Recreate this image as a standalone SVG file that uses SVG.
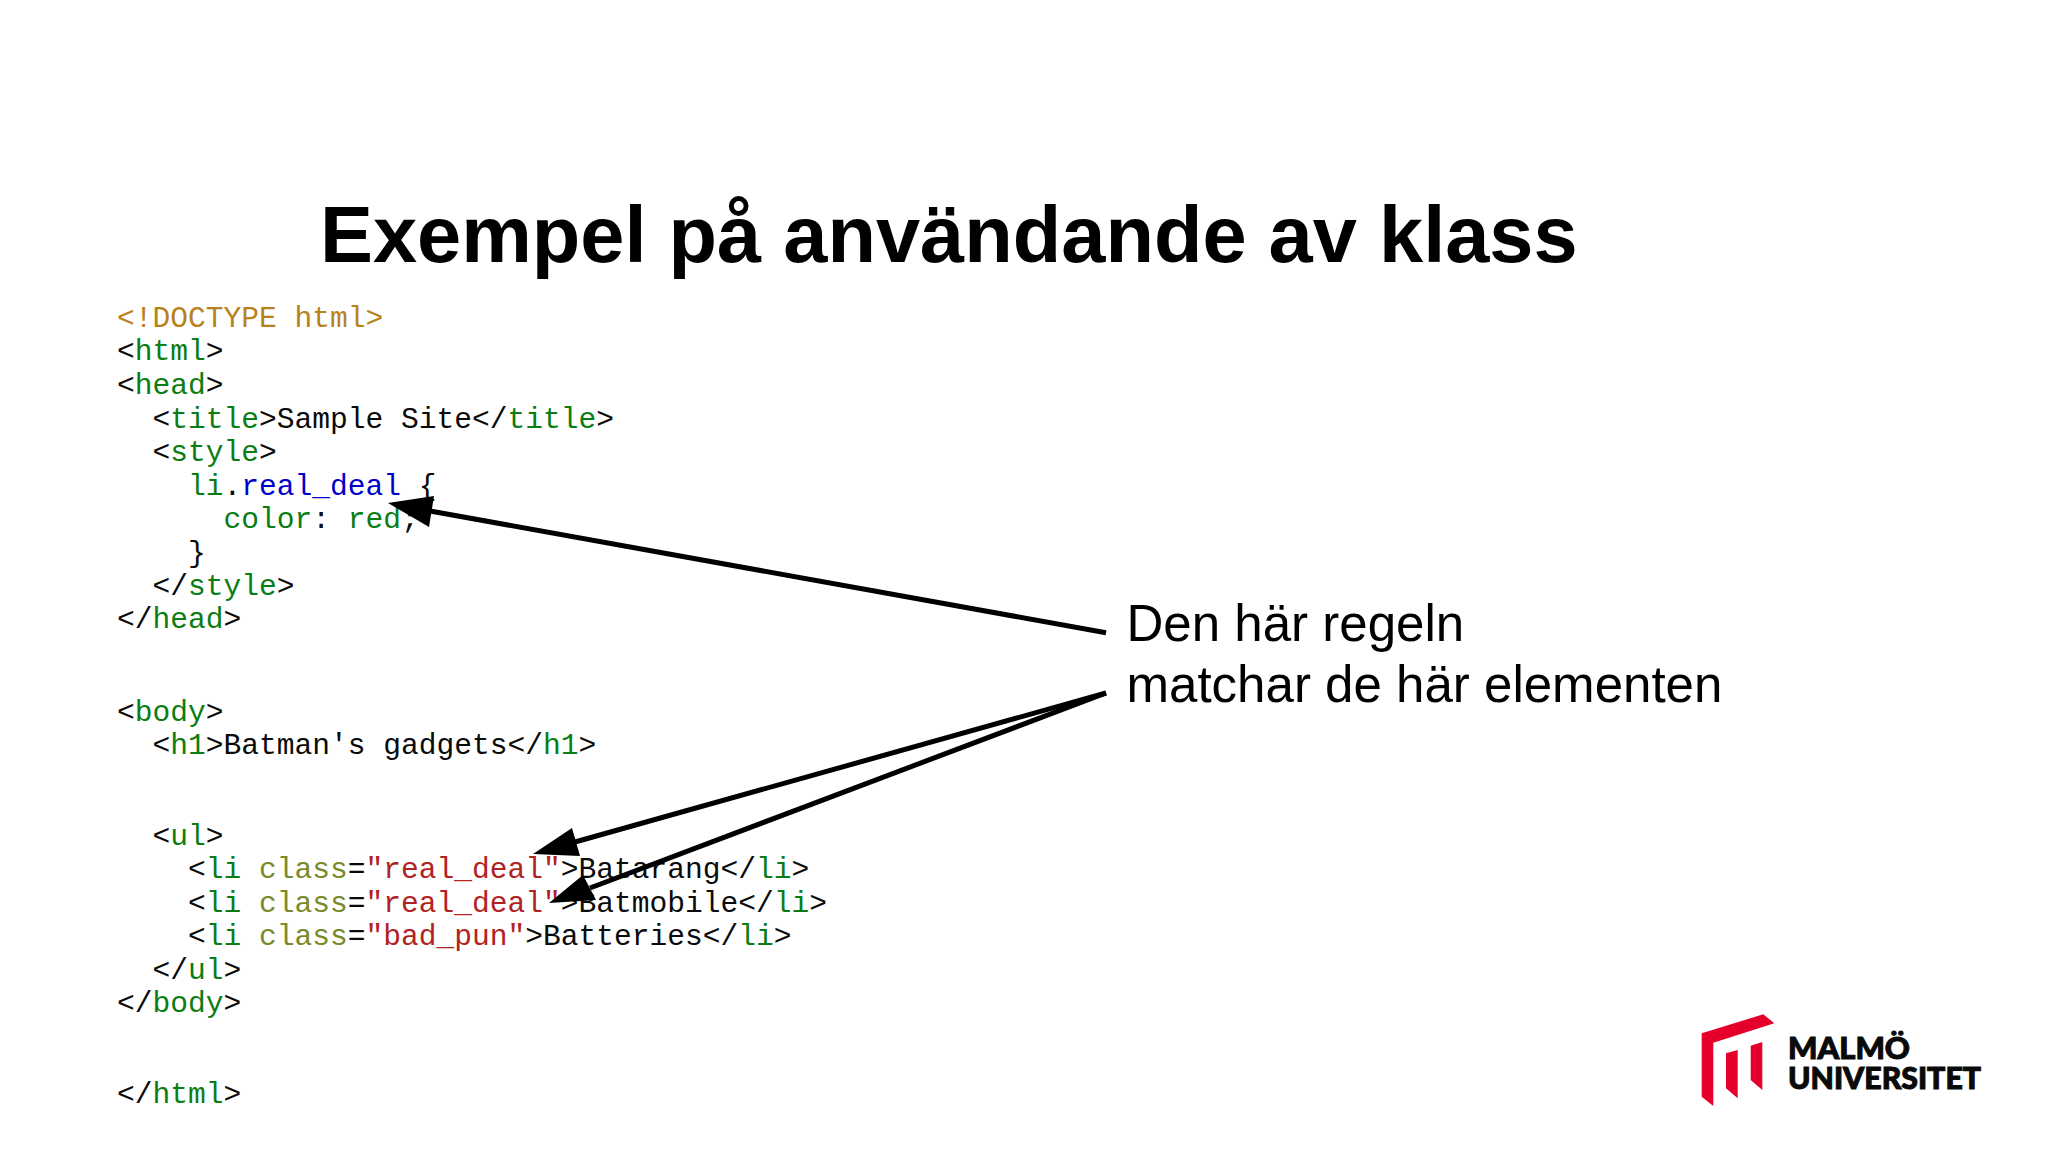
<svg xmlns="http://www.w3.org/2000/svg" width="2048" height="1152" viewBox="0 0 2048 1152">
<style>
.c{font-family:"Liberation Mono",monospace;font-size:29.58px;fill:#0a0a0a;white-space:pre}
.g{fill:#0a7d14}.d{fill:#b8821b}.b{fill:#0000cc}.a{fill:#7a8a2a}.s{fill:#b22222}
.t{font-family:"Liberation Sans",Arial,sans-serif;fill:#000}
.l{stroke:#000;stroke-width:5;fill:none}
.m{font-family:Lato,"Open Sans",sans-serif;font-weight:900;font-size:30px;fill:#0a0a0a;stroke:#0a0a0a;stroke-width:1}
</style>
<rect width="2048" height="1152" fill="#fff"/>
<text id="title" class="t" x="320" y="262" font-size="79.4" font-weight="700">Exempel på användande av klass</text>
<g id="code">
<text class="c" x="117" y="327"><tspan class="d">&lt;!DOCTYPE html&gt;</tspan></text>
<text class="c" x="117" y="360.3">&lt;<tspan class="g">html</tspan>&gt;</text>
<text class="c" x="117" y="393.8">&lt;<tspan class="g">head</tspan>&gt;</text>
<text class="c" x="152.5" y="427.5">&lt;<tspan class="g">title</tspan>&gt;Sample Site&lt;/<tspan class="g">title</tspan>&gt;</text>
<text class="c" x="152.5" y="461">&lt;<tspan class="g">style</tspan>&gt;</text>
<text class="c" x="188" y="494.5"><tspan class="g">li</tspan>.<tspan class="b">real_deal</tspan> {</text>
<text class="c" x="223.5" y="528"><tspan class="g">color</tspan>: <tspan class="g">red</tspan>;</text>
<text class="c" x="188" y="561.5">}</text>
<text class="c" x="152.5" y="594.7">&lt;/<tspan class="g">style</tspan>&gt;</text>
<text class="c" x="117" y="628">&lt;/<tspan class="g">head</tspan>&gt;</text>
<text class="c" x="117" y="720.5">&lt;<tspan class="g">body</tspan>&gt;</text>
<text class="c" x="152.5" y="754">&lt;<tspan class="g">h1</tspan>&gt;Batman's gadgets&lt;/<tspan class="g">h1</tspan>&gt;</text>
<text class="c" x="152.5" y="844.5">&lt;<tspan class="g">ul</tspan>&gt;</text>
<text class="c" x="188" y="878">&lt;<tspan class="g">li</tspan> <tspan class="a">class</tspan>=<tspan class="s">"real_deal"</tspan>&gt;Batarang&lt;/<tspan class="g">li</tspan>&gt;</text>
<text class="c" x="188" y="911.5">&lt;<tspan class="g">li</tspan> <tspan class="a">class</tspan>=<tspan class="s">"real_deal"</tspan>&gt;Batmobile&lt;/<tspan class="g">li</tspan>&gt;</text>
<text class="c" x="188" y="945">&lt;<tspan class="g">li</tspan> <tspan class="a">class</tspan>=<tspan class="s">"bad_pun"</tspan>&gt;Batteries&lt;/<tspan class="g">li</tspan>&gt;</text>
<text class="c" x="152.5" y="978.5">&lt;/<tspan class="g">ul</tspan>&gt;</text>
<text class="c" x="117" y="1012">&lt;/<tspan class="g">body</tspan>&gt;</text>
<text class="c" x="117" y="1103">&lt;/<tspan class="g">html</tspan>&gt;</text>
</g>
<g id="label">
<text class="t" x="1126.5" y="640.5" font-size="51.05">Den här regeln</text>
<text class="t" x="1126.5" y="701.5" font-size="51.05">matchar de här elementen</text>
</g>
<g id="connectors">
<path class="l" d="M1106 632.7L430 511"/><polygon points="388,503 434,496 429,527"/>
<path class="l" d="M1106 693L575 842"/><polygon points="533,854 572,828 580,856"/>
<path class="l" d="M1106 693L590 888"/><polygon points="549,903 583,875 596,900"/>
</g>
<g id="logo">
<polygon fill="#e4002b" points="1701.7,1033.3 1763.3,1014.3 1774.3,1023.3 1713.3,1042.7 1713.3,1106 1701.7,1096.7"/>
<polygon fill="#e4002b" points="1726,1053.3 1737.7,1050 1737.7,1098.3 1726,1088.3"/>
<polygon fill="#e4002b" points="1750.7,1045.7 1762.3,1042 1762.3,1090 1750.7,1080"/>
<text class="m" x="1788" y="1058.5" textLength="122" lengthAdjust="spacingAndGlyphs">MALMÖ</text>
<text class="m" x="1788" y="1088.5" textLength="193" lengthAdjust="spacingAndGlyphs">UNIVERSITET</text>
</g>
</svg>
